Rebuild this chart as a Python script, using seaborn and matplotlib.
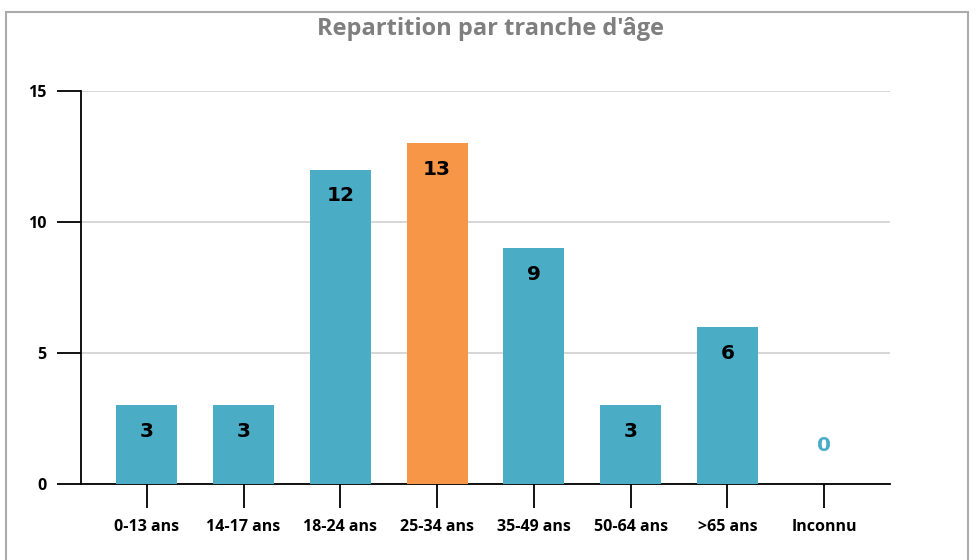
import matplotlib
matplotlib.use("Agg")
import matplotlib.pyplot as plt
import seaborn as sns
from matplotlib.patches import Rectangle

# data
categories = ["0-13 ans", "14-17 ans", "18-24 ans", "25-34 ans",
              "35-49 ans", "50-64 ans", ">65 ans", "Inconnu"]
counts = [3, 3, 12, 13, 9, 3, 6, 0]
highlight = "25-34 ans"

teal = "#4BACC6"
orange = "#F79646"

sns.set_theme(style="white")
plt.rcParams['font.family'] = ['Open Sans', 'DejaVu Sans']

fig = plt.figure(figsize=(9.8, 5.6), dpi=100)
ax = fig.add_axes([81 / 980, 76 / 560, 809 / 980, 393 / 560])

palette = {c: (orange if c == highlight else teal) for c in categories}
sns.barplot(x=categories, y=counts, hue=categories, palette=palette,
            legend=False, width=0.63, saturation=1, linewidth=0,
            ax=ax, zorder=3)

ax.set_xlim(-0.68, len(categories) - 1 + 0.68)
ax.set_ylim(0, 15)
ax.set_yticks([0, 5, 10, 15])
ax.yaxis.grid(True, color="#d0d0d0", linewidth=1.2, zorder=0)
ax.set_axisbelow(True)

for side in ["top", "right"]:
    ax.spines[side].set_visible(False)
for side in ["left", "bottom"]:
    ax.spines[side].set_color("black")
    ax.spines[side].set_linewidth(1.3)

ax.tick_params(axis="y", length=17, width=1.3, color="black", pad=8,
               left=True, labelsize=11.5)
ax.tick_params(axis="x", length=17, width=1.3, color="black", pad=8,
               bottom=True, labelsize=11.5)
for lbl in ax.get_xticklabels() + ax.get_yticklabels():
    lbl.set_fontweight("bold")
    lbl.set_color("black")

# value labels
for i, v in enumerate(counts):
    if v > 0:
        ax.annotate(str(v), (i, v), xytext=(0, -19), textcoords="offset points",
                    ha="center", va="center", fontsize=14.5, fontweight="bold",
                    color="black", family="DejaVu Sans")
    else:
        ax.annotate(str(v), (i, v), xytext=(0, 28), textcoords="offset points",
                    ha="center", va="center", fontsize=14.5, fontweight="bold",
                    color=teal, family="DejaVu Sans")

ax.set_xlabel("")
ax.set_ylabel("")

fig.text(0.5, 0.949, "Repartition par tranche d'âge", ha="center", va="center",
         fontsize=17, fontweight="bold", color="#7f7f7f")

# outer chart frame
fig.patches.append(Rectangle((6 / 980, -0.05), 962 / 980, 1.05 - 12 / 560,
                             transform=fig.transFigure, fill=False,
                             edgecolor="#ababab", linewidth=1.5))

fig.savefig("out.png", dpi=100)
